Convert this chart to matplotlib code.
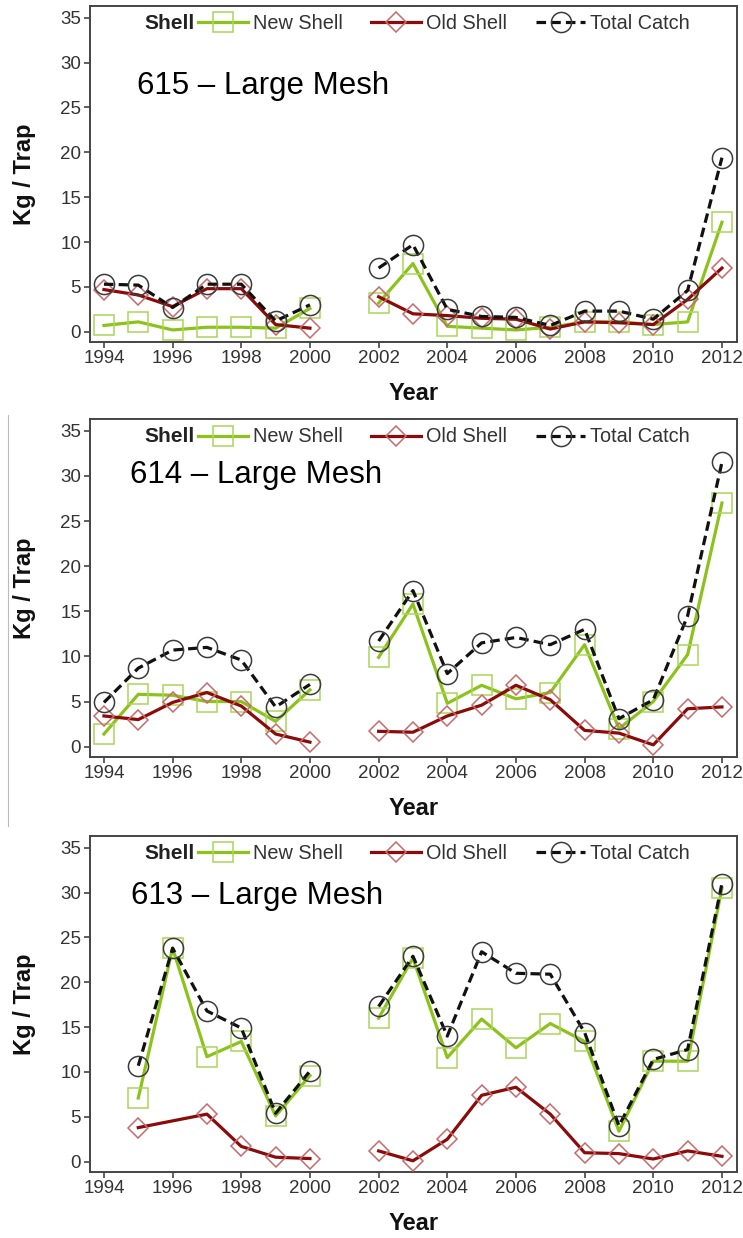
import matplotlib.pyplot as plt
from matplotlib.lines import Line2D

plt.rcParams['font.family'] = ['Liberation Sans', 'DejaVu Sans']

# years sampled (no survey in 2001)
years = [1994, 1995, 1996, 1997, 1998, 1999, 2000,
         2002, 2003, 2004, 2005, 2006, 2007, 2008, 2009, 2010, 2011, 2012]

# 615 - Large Mesh
new_615 = [0.7, 1.1, 0.2, 0.5, 0.5, 0.4, 2.6,
           3.2, 7.6, 0.6, 0.4, 0.2, 0.5, 1.1, 1.1, 0.8, 1.1, 12.2]
old_615 = [4.7, 4.1, 2.8, 4.8, 4.8, 0.8, 0.4,
           3.9, 2.0, 1.8, 1.5, 1.4, 0.3, 1.1, 1.0, 0.8, 3.6, 7.1]
total_615 = [5.3, 5.2, 2.7, 5.3, 5.3, 1.2, 3.0,
             7.1, 9.7, 2.5, 1.7, 1.6, 0.7, 2.3, 2.3, 1.4, 4.6, 19.4]

# 614 - Large Mesh
new_614 = [1.4, 5.8, 5.7, 5.0, 5.0, 2.8, 6.3,
           9.9, 15.8, 4.8, 6.8, 5.3, 6.0, 11.3, 2.0, 5.0, 10.2, 27.0]
old_614 = [3.4, 3.0, 4.9, 6.0, 4.5, 1.4, 0.5,
           1.7, 1.6, 3.4, 4.6, 6.8, 5.2, 1.8, 1.5, 0.2, 4.2, 4.4]
total_614 = [4.9, 8.7, 10.7, 11.0, 9.6, 4.4, 6.9,
             11.7, 17.3, 8.1, 11.5, 12.1, 11.3, 13.0, 3.1, 5.2, 14.5, 31.5]

# 613 - Large Mesh (no 1994 data, old shell missing in 1996)
new_613 = [None, 7.1, 23.8, 11.7, 13.4, 5.1, 9.6,
           16.0, 22.7, 11.6, 15.9, 12.7, 15.4, 13.4, 3.4, 11.2, 11.2, 30.5]
old_613 = [None, 3.8, None, 5.3, 1.7, 0.5, 0.35,
           1.2, 0.1, 2.5, 7.4, 8.3, 5.3, 1.0, 0.9, 0.3, 1.2, 0.6]
total_613 = [None, 10.7, 23.8, 16.8, 14.9, 5.4, 10.1,
             17.3, 22.9, 14.0, 23.4, 21.0, 20.9, 14.4, 4.0, 11.4, 12.5, 31.0]

panels = [
    ("615 \u2013 Large Mesh", new_615, old_615, total_615, 1994.95, 27.4),
    ("614 \u2013 Large Mesh", new_614, old_614, total_614, 1994.75, 30.1),
    ("613 \u2013 Large Mesh", new_613, old_613, total_613, 1994.8, 29.6),
]

green = '#8cc21c'
green_edge = '#a9d65a'
red = '#8b0a0a'
red_edge = '#c86a6a'
black = '#111111'
circ_edge = '#3c3c3c'
frame = '#444444'
txt = '#333333'


def draw_series(ax, vals, **kw):
    # split the series at the missing survey year, skip empty values
    blocks = [[]]
    prev = None
    for y, v in zip(years, vals):
        if prev is not None and y - prev > 1:
            blocks.append([])
        prev = y
        if v is not None:
            blocks[-1].append((y, v))
    for b in blocks:
        if b:
            ax.plot([p[0] for p in b], [p[1] for p in b], **kw)


fig = plt.figure(figsize=(7.43, 12.38), dpi=100)

rects = [(0.1205, 0.7237, 0.8715, 0.2714),
         (0.1205, 0.3885, 0.8715, 0.2730),
         (0.1205, 0.0533, 0.8715, 0.2714)]

for rect, (title, new, old, total, tx, ty) in zip(rects, panels):
    ax = fig.add_axes(rect)

    draw_series(ax, new, color=green, lw=2.3, marker='s', ms=15,
                mfc='none', mec=green_edge, mew=1.1, zorder=3)
    draw_series(ax, old, color=red, lw=2.3, marker='D', ms=10.5,
                mfc='none', mec=red_edge, mew=1.1, zorder=4)
    draw_series(ax, total, color=black, lw=2.3, ls=(0, (3, 1.6)), marker='o',
                ms=14.5, mfc='none', mec=circ_edge, mew=1.1, zorder=5)

    ax.set_xlim(1993.58, 2012.44)
    ax.set_ylim(-1.15, 36.3)
    ax.set_xticks(range(1994, 2013, 2))
    ax.set_yticks(range(0, 36, 5))
    ax.tick_params(direction='out', length=4, width=1.2, color=frame,
                   labelsize=13.5, labelcolor=txt, pad=2)
    for s in ax.spines.values():
        s.set_color(frame)
        s.set_linewidth(1.4)

    ax.set_ylabel("Kg / Trap", fontsize=17, fontweight='bold', color='#111111')
    ax.yaxis.set_label_coords(-0.0826, 0.5)
    ax.set_xlabel("Year", fontsize=17, fontweight='bold', color='#111111')
    ax.xaxis.set_label_coords(0.5, -0.118)

    ax.text(tx, ty, title, fontsize=22.5, va='center', ha='left', color='#000000')

    handles = [
        Line2D([], [], color=green, lw=2.3, marker='s', ms=15, mfc='none',
               mec=green_edge, mew=1.1),
        Line2D([], [], color=red, lw=2.3, marker='D', ms=10.5, mfc='none',
               mec=red_edge, mew=1.1),
        Line2D([], [], color=black, lw=2.3, ls=(0, (3, 1.6)), marker='o',
               ms=14.5, mfc='none', mec=circ_edge, mew=1.1),
    ]
    leg = ax.legend(handles, ["New Shell", "Old Shell", "Total Catch"],
                    loc='center left', bbox_to_anchor=(0.1676, 0.947), ncol=3,
                    frameon=False, fontsize=14.3, handlelength=2.5,
                    handletextpad=0.25, columnspacing=1.45, borderpad=0,
                    borderaxespad=0)
    for t in leg.get_texts():
        t.set_color(txt)
    ax.text(0.163, 0.947, "Shell", transform=ax.transAxes, ha='right',
            va='center', fontsize=15, fontweight='bold', color='#222222')

# thin border line left of the middle panel
fig.add_artist(Line2D([8 / 743, 8 / 743], [1 - 415 / 1238, 1 - 826 / 1238],
                      color='#bbbbbb', lw=0.8))

fig.savefig("out.png", dpi=100)
